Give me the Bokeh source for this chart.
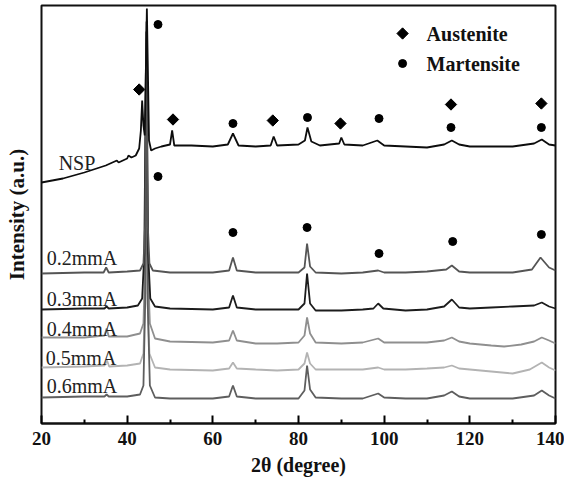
import math
from bokeh.plotting import figure
from bokeh.models import FixedTicker
from bokeh.core.properties import value
from bokeh.embed import file_html
from bokeh.resources import INLINE

# ---------------- data (2theta in degrees, intensity in arbitrary units) -------------
nsp_x = [20, 25, 30, 35, 37.6, 38, 40, 40.3, 41, 42, 42.8, 43.2, 43.5, 43.8, 44.1, 44.4, 44.6, 44.8, 45.1,
         45.6, 46.5, 48, 50, 50.5, 51, 55, 60, 63.5, 64.7, 66, 70, 73.5, 74.2, 75, 80, 81.5, 82.1, 83,
         85, 89.5, 90, 90.7, 95, 98.4, 100, 105, 110, 114, 115.8, 117.5, 120, 125, 130, 135, 136.8,
         138.5, 140]
nsp_y = [241, 245, 251, 258, 263, 261, 265, 268, 266, 268, 275, 293, 323, 298, 288, 363, 415, 363, 283,
         273, 275, 277, 279, 293, 278, 278, 277, 279, 290, 278, 277, 278, 287, 278, 279, 283, 296, 282,
         278, 280, 286, 279, 278, 283, 278, 277, 276, 279, 283, 279, 277, 277, 277, 280, 284,
         279, 278]

m02_x = [20, 30, 34.5, 35.1, 35.7, 40, 43, 43.8, 44.2, 44.5, 44.8, 45.2, 46, 50, 55, 60, 63.8, 64.7,
         65.6, 70, 75, 80, 81.4, 82, 82.7, 84, 90, 95, 98.6, 100, 105, 110, 114.5, 115.8, 117.5, 120,
         125, 130, 134.5, 136.5, 138.5, 140]
m02_y = [150, 151, 151, 156, 151, 152, 153, 160, 200, 402, 200, 160, 153, 151, 151, 151, 153, 166,
         153, 151, 151, 151, 156, 180, 157, 151, 150, 151, 153, 151, 151, 152, 154, 158, 152, 151,
         151, 151, 154, 166, 156, 153]

m03_x = [20, 30, 34.7, 35.2, 35.7, 40, 42.5, 43.5, 44.0, 44.45, 44.9, 45.4, 46.5, 50, 60, 63.8, 64.7,
         65.6, 70, 75, 80, 81.4, 82, 82.7, 84, 90, 95, 97.5, 98.6, 99.8, 105, 110, 114, 115.8, 117.5,
         120, 125, 130, 135, 136.8, 138.5, 140]
m03_y = [114, 115, 115, 117, 115, 116, 118, 125, 170, 392, 170, 125, 117, 115, 114, 116, 128,
         116, 114, 114, 114, 120, 150, 120, 113, 113, 114, 115, 120, 115, 113, 114, 117, 124, 116,
         115, 116, 117, 118, 121, 117, 115]

m04_x = [20, 30, 34.7, 35.2, 35.7, 40, 43, 43.8, 44.2, 44.45, 44.8, 45.3, 46.5, 50, 60, 63.8, 64.7,
         65.6, 70, 75, 80, 81.4, 82, 82.7, 84, 90, 95, 98.6, 100, 105, 110, 114, 115.8, 117.5, 120,
         125, 128, 132, 135, 136.8, 138.5, 140]
m04_y = [86, 86, 88, 95, 87, 87, 90, 100, 160, 380, 160, 100, 85, 82, 81, 83, 93,
         83, 80, 80, 81, 88, 106, 90, 81, 80, 81, 85, 81, 81, 81, 83, 86, 82, 80,
         78, 77, 79, 82, 86, 83, 80]

m05_x = [20, 30, 34.7, 35.3, 35.8, 40, 43, 43.8, 44.2, 44.4, 44.7, 45.2, 46.5, 50, 60, 63.8, 64.7,
         65.6, 70, 75, 80, 81.4, 82, 82.7, 84, 90, 95, 98.6, 100, 105, 110, 114, 115.8, 117.5, 120,
         125, 130, 134, 136.8, 138.5, 140]
m05_y = [56, 57, 58, 63, 57, 58, 60, 70, 130, 370, 130, 70, 56, 54, 53, 55, 61,
         55, 54, 53, 54, 60, 71, 60, 54, 54, 54, 56, 54, 54, 55, 56, 58, 55, 54,
         52, 50, 54, 61, 56, 53]

m06_x = [20, 30, 34.7, 35.2, 35.7, 40, 43, 43.8, 44.2, 44.5, 44.8, 45.3, 46.5, 50, 60, 63.8, 64.7,
         65.6, 70, 75, 80, 81.4, 82, 82.7, 84, 90, 95, 98.6, 100, 105, 110, 114, 115.8, 117.5, 120,
         125, 130, 135, 136.8, 138.5, 140]
m06_y = [26, 27, 27, 29, 27, 27, 29, 38, 120, 385, 120, 38, 26, 25, 25, 27, 38,
         27, 25, 25, 25, 33, 58, 34, 26, 25, 25, 30, 26, 25, 25, 28, 32, 27, 25,
         25, 25, 28, 33, 28, 25]

austenite_x = [42.8, 50.7, 74.0, 89.8, 115.6, 136.7]
austenite_y = [334, 304, 303, 300, 319, 320]
martensite_top_x = [47.2, 64.7, 82.1, 98.8, 115.6, 136.7]
martensite_top_y = [399, 300, 306, 305, 296, 296]
martensite_low_x = [47.2, 64.7, 82.0, 98.8, 116.0, 136.7]
martensite_low_y = [247, 191, 196, 170, 182, 189]

sample_labels = ["NSP", "0.2mmA", "0.3mmA", "0.4mmA", "0.5mmA", "0.6mmA"]
label_x = [24.0, 21.2, 21.2, 21.2, 21.0, 21.2]
label_y = [261, 166, 125, 95, 66, 38]

x_ticks = [20, 40, 60, 80, 100, 120, 140]
x_minor = [30, 50, 70, 90, 110, 130]

# ---------------- figure ----------------
p = figure(frame_width=514, frame_height=418, x_range=(20, 140), y_range=(0, 418),
           output_backend="svg", toolbar_location=None,
           min_border_left=41, min_border_right=9, min_border_top=5, min_border_bottom=54)
p.background_fill_color = "white"
p.border_fill_color = "white"
p.xgrid.visible = False
p.ygrid.visible = False
p.outline_line_color = "#111111"
p.outline_line_width = 2

ay = p.yaxis[0]
ay.ticker = FixedTicker(ticks=[])
ay.axis_line_color = None
ay.major_tick_line_color = None
ay.minor_tick_line_color = None
ay.axis_label = "Intensity (a.u.)"
ay.axis_label_text_font = "Liberation Serif"
ay.axis_label_text_font_style = "bold"
ay.axis_label_text_font_size = "21px"
ay.axis_label_text_color = "#111111"
ay.axis_label_standoff = 13

ax = p.xaxis[0]
ax.ticker = FixedTicker(ticks=x_ticks, minor_ticks=x_minor)
ax.axis_line_width = 2
ax.axis_line_color = "#111111"
ax.major_tick_in = 8
ax.major_tick_out = 0
ax.minor_tick_in = 4
ax.minor_tick_out = 0
ax.major_tick_line_width = 2
ax.minor_tick_line_width = 2
ax.major_label_text_font = "Liberation Serif"
ax.major_label_text_font_style = "bold"
ax.major_label_text_font_size = "19px"
ax.major_label_text_color = "#111111"
ax.major_label_standoff = 8
ax.axis_label = "2θ (degree)"
ax.axis_label_text_font = "Liberation Serif"
ax.axis_label_text_font_style = "bold"
ax.axis_label_text_font_size = "20px"
ax.axis_label_text_color = "#111111"
ax.axis_label_standoff = 6

series = [
    (m05_x, m05_y, "#b3b3b3"),
    (m04_x, m04_y, "#8f8f8f"),
    (m06_x, m06_y, "#5e5e5e"),
    (m03_x, m03_y, "#1c1c1c"),
    (m02_x, m02_y, "#555555"),
    (nsp_x, nsp_y, "#0d0d0d"),
]
for xs, ys, c in series:
    p.line(xs, ys, line_color=c, line_width=1.8)

p.scatter(austenite_x, austenite_y, marker="square", angle=math.pi / 4, size=8,
          fill_color="black", line_color="black")
p.scatter(martensite_top_x, martensite_top_y, marker="circle", size=8,
          fill_color="black", line_color="black")
p.scatter(martensite_low_x, martensite_low_y, marker="circle", size=8,
          fill_color="black", line_color="black")

# legend
p.scatter([104.3], [390], marker="square", angle=math.pi / 4, size=8,
          fill_color="black", line_color="black")
p.scatter([104.3], [360], marker="circle", size=8, fill_color="black", line_color="black")
p.text([109.9, 109.9], [390, 360], text=["Austenite", "Martensite"],
       text_font=value("Liberation Serif"), text_font_style="bold", text_font_size="20px",
       text_baseline="middle", text_align="left", text_color="#111111")

# sample labels
p.text(label_x, label_y, text=sample_labels, text_font=value("Liberation Serif"),
       text_font_size="20px", text_baseline="middle", text_align="left", text_color="#222222")

open("out.html", "w").write(file_html(p, INLINE))
